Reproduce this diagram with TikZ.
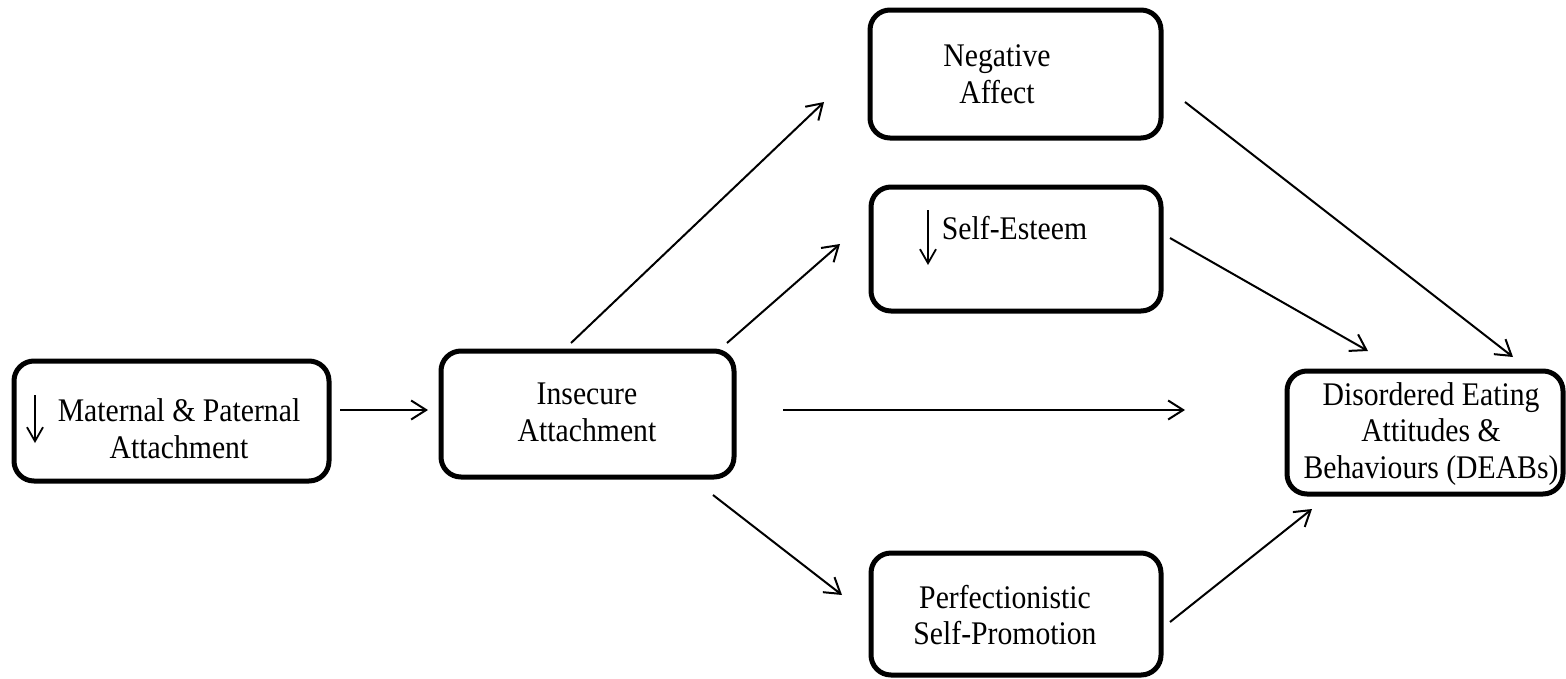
\documentclass[tikz,border=0pt]{standalone}
\usepackage{fontspec}
\setmainfont{Liberation Serif}[FakeStretch=0.9]
\usetikzlibrary{arrows.meta}
\begin{document}
\begin{tikzpicture}[x=1pt,y=-1pt,
  box/.style={draw, line width=5pt, rounded corners=20pt, inner sep=0pt},
  lbl/.style={align=center, font=\fontsize{33}{36.7}\selectfont, inner sep=0pt},
  conn/.style={line width=2pt, -{Straight Barb[length=15pt,width=19pt]}},
  dnarrow/.style={line width=1.8pt, -{Straight Barb[length=14pt,width=16pt]}}]
\useasboundingbox (0,0) rectangle (1566,678);

% boxes
\node[box, minimum width=315pt, minimum height=120pt] (A) at (171.5,421) {};
\node[box, minimum width=293pt, minimum height=126pt] (B) at (587.5,414) {};
\node[box, minimum width=291pt, minimum height=128pt] (C) at (1015.5,74) {};
\node[box, minimum width=290pt, minimum height=124pt] (D) at (1016,249) {};
\node[box, minimum width=290pt, minimum height=122pt] (E) at (1016,614) {};
\node[box, minimum width=276pt, minimum height=123pt] (F) at (1425,432.5) {};

% texts
\node[lbl] (tA) at (179,429) {Maternal \& Paternal\\Attachment};
\node[lbl] (tB) at (587,412.5) {Insecure\\Attachment};
\node[lbl] (tC) at (997,74.5) {Negative\\Affect};
\node[lbl] (tD) at (1014.5,228) {Self-Esteem};
\node[lbl] (tE) at (1005,615) {Perfectionistic\\Self-Promotion};
\node[lbl] (tF) at (1431,434) {Disordered Eating\\Attitudes \&\\Behaviours (DEABs)};

% down arrows inside boxes
\coordinate (dA1) at (35,395);  \coordinate (dA2) at (35,443);
\coordinate (dD1) at (928,210); \coordinate (dD2) at (928,265);
\draw[dnarrow] (dA1) -- (dA2);
\draw[dnarrow] (dD1) -- (dD2);

% connector end points
\coordinate (ab1) at (340,410);  \coordinate (ab2) at (428,410);
\coordinate (bc1) at (571,343);  \coordinate (bc2) at (824,102);
\coordinate (bd1) at (727,343);  \coordinate (bd2) at (840,244);
\coordinate (bf1) at (783,410);  \coordinate (bf2) at (1185,410);
\coordinate (be1) at (713,495);  \coordinate (be2) at (842,595);
\coordinate (cf1) at (1185,102); \coordinate (cf2) at (1513,357);
\coordinate (df1) at (1170,238); \coordinate (df2) at (1368,351);
\coordinate (ef1) at (1170,622); \coordinate (ef2) at (1312,509);

\draw[conn] (ab1) -- (ab2);
\draw[conn] (bc1) -- (bc2);
\draw[conn] (bd1) -- (bd2);
\draw[conn] (bf1) -- (bf2);
\draw[conn] (be1) -- (be2);
\draw[conn] (cf1) -- (cf2);
\draw[conn] (df1) -- (df2);
\draw[conn] (ef1) -- (ef2);
\end{tikzpicture}
\end{document}
